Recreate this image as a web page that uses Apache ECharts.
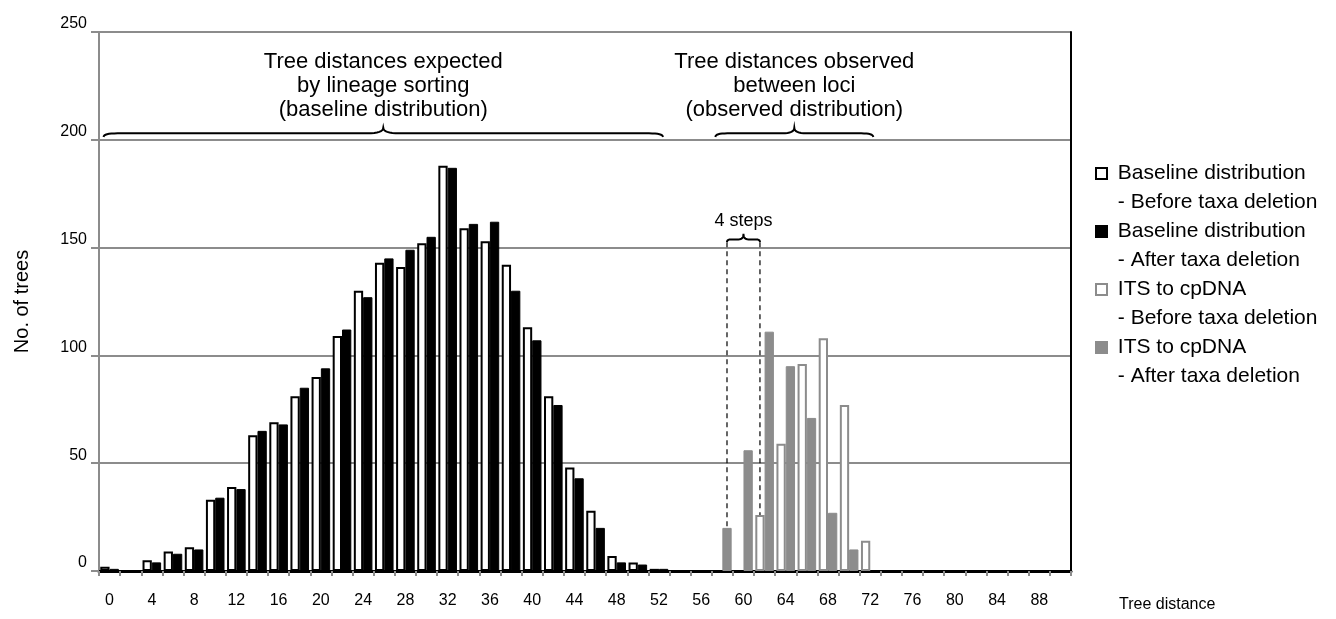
<!DOCTYPE html>
<html><head><meta charset="utf-8">
<script src="https://cdn.jsdelivr.net/npm/echarts@6/dist/echarts.min.js"></script>
<style>html,body{margin:0;padding:0;background:#fff}#c{width:1336px;height:619px}</style>
</head><body><div id="c"></div>
<script>
// ---- data ----
const categories = ['0','2','4','6','8','10','12','14','16','18','20','22','24','26','28','30','32','34','36','38','40','42','44','46','48','50','52','54','56','58','60','62','64','66','68','70','72','74','76','78','80','82','84','86','88','90'];
const yTicks = [0, 50, 100, 150, 200, 250];
const seriesNames = ['Baseline distribution\n- Before taxa deletion','Baseline distribution\n- After taxa deletion','ITS to cpDNA\n- Before taxa deletion','ITS to cpDNA\n- After taxa deletion'];
const baselineBefore = [2,null,5,9,11,33,39,63,69,81,90,109,130,143,141,152,188,159,153,142,113,81,48,28,7,4,1,
  null,null,null,null,null,null,null,null,null,null,null,null,null,null,null,null,null,null];
const baselineAfter = [1,null,4,8,10,34,38,65,68,85,94,112,127,145,149,155,187,161,162,130,107,77,43,20,4,3,1,
  null,null,null,null,null,null,null,null,null,null,null,null,null,null,null,null,null,null];
const itsBefore = [null,null,null,null,null,null,null,null,null,null,null,null,null,null,null,null,null,null,null,null,null,null,null,null,null,null,null,null,null,null,null,
  26,59,96,108,77,14,null,null,null,null,null,null,null,null,null];
const itsAfter = [null,null,null,null,null,null,null,null,null,null,null,null,null,null,null,null,null,null,null,null,null,null,null,null,null,null,null,null,null,
  20,56,111,95,71,27,10,null,null,null,null,null,null,null,null,null,null];
const annotations = ['Tree distances expected\nby lineage sorting\n(baseline distribution)','Tree distances observed\nbetween loci\n(observed distribution)','4 steps'];

const FONT = 'Liberation Sans, Arial, sans-serif';
const GREY = '#8c8c8c';
const chart = echarts.init(document.getElementById('c'), null, {renderer:'canvas'});
const CAT_GAP = 0.12;
chart.setOption({
  animation:false,
  grid:{left:99, right:265, top:32, bottom:48, containLabel:false},
  xAxis:{type:'category', data:categories, name:'Tree distance', nameLocation:'end', nameGap:48,
    nameTextStyle:{fontFamily:FONT, fontSize:16, color:'#000', verticalAlign:'top', padding:[26,0,0,0]},
    axisLine:{lineStyle:{color:'#000', width:3}},
    axisTick:{show:true, interval:0, length:5, lineStyle:{color:GREY, width:2}},
    axisLabel:{interval:1, margin:22, fontFamily:FONT, fontSize:16, color:'#000'},
    splitLine:{show:false}},
  yAxis:[{type:'value', min:0, max:250, interval:50, name:'No. of trees', nameLocation:'middle', nameGap:67,
    nameTextStyle:{fontFamily:FONT, fontSize:20, color:'#000'},
    axisLine:{show:true, lineStyle:{color:GREY, width:2}},
    axisTick:{show:true, length:8, lineStyle:{color:GREY, width:2}},
    axisLabel:{margin:12, fontFamily:FONT, fontSize:16, color:'#000', verticalAlign:'bottom'},
    splitLine:{show:true, lineStyle:{color:GREY, width:2}}},
   {type:'value', position:'right', min:0, max:250, interval:50,
    axisLine:{show:true, lineStyle:{color:'#000', width:2}}, axisTick:{show:false}, axisLabel:{show:false}, splitLine:{show:false}}],
  legend:{orient:'vertical', left:1095, top:130, padding:0, itemWidth:11, itemHeight:11, itemGap:-29, icon:'rect',
    textStyle:{fontFamily:FONT, fontSize:21, color:'#000', lineHeight:29},
    formatter: n => '\n ' + n.replace('\n','\n '),
    data: seriesNames},
  series:[
    {name:seriesNames[0], type:'bar', stack:'before', data:baselineBefore, barCategoryGap:(CAT_GAP*100)+'%', barGap:'0%',
      itemStyle:{color:'#fff', borderColor:'#000', borderWidth:2}},
    {name:seriesNames[1], type:'bar', stack:'after', data:baselineAfter, barCategoryGap:(CAT_GAP*100)+'%', barGap:'0%',
      itemStyle:{color:'#000', borderColor:'#000', borderWidth:1}},
    {name:seriesNames[2], type:'bar', stack:'before', data:itsBefore,
      itemStyle:{color:'#fff', borderColor:GREY, borderWidth:2}},
    {name:seriesNames[3], type:'bar', stack:'after', data:itsAfter,
      itemStyle:{color:GREY, borderColor:GREY, borderWidth:1}}
  ]
});

// ---- annotations positioned through the chart's scales ----
const px = (cat, v) => chart.convertToPixel({xAxisIndex:0, yAxisIndex:0}, [cat, v]);
const band = px('2',0)[0] - px('0',0)[0];
const barW = band * (1 - CAT_GAP) / 2;
function quad(p0, c, p1, n, out){ for(let i=1;i<=n;i++){const t=i/n, a=(1-t)*(1-t), b=2*(1-t)*t, d=t*t; out.push([a*p0[0]+b*c[0]+d*p1[0], a*p0[1]+b*c[1]+d*p1[1]]);} }
function brace(x1, x2, vEnd, vFlat, vPeak, rEnd, rMid){
  const yE = px('0',vEnd)[1], yF = px('0',vFlat)[1], yP = px('0',vPeak)[1];
  const xm = (x1+x2)/2, pts = [[x1,yE]];
  quad([x1,yE],[x1,yF],[x1+rEnd,yF],8,pts);
  pts.push([xm-rMid,yF]);
  quad([xm-rMid,yF],[xm,yF],[xm,yP],8,pts);
  quad([xm,yP],[xm,yF],[xm+rMid,yF],8,pts);
  pts.push([x2-rEnd,yF]);
  quad([x2-rEnd,yF],[x2,yF],[x2,yE],8,pts);
  return {type:'polyline', shape:{points:pts}, style:{stroke:'#000', lineWidth:2, fill:null}, silent:true};
}
const b1x1 = px('0',0)[0]-6, b1x2 = px('52',0)[0]+4;
const b2x1 = px('58',0)[0]-7, b2x2 = px('72',0)[0]+3;
const s1 = px('58',0)[0] + barW/2, s2 = px('62',0)[0] - barW/2;
const textEl = (x, v, t, size, lh) => ({type:'text', x:x, y:px('0',v)[1], silent:true,
  style:{text:t, fontFamily:FONT, fontSize:size, lineHeight:lh, fill:'#000', align:'center', verticalAlign:'middle'}});
const dashed = (x, v1, v2) => ({type:'line', silent:true, shape:{x1:x, y1:px('0',v1)[1], x2:x, y2:px('0',v2)[1]},
  style:{stroke:'#000', lineWidth:1.2, lineDash:[5,4]}});
chart.setOption({graphic:[
  brace(b1x1, b1x2, 201.3, 203, 205.6, 14, 16),
  brace(b2x1, b2x2, 201.3, 203, 205.6, 12, 12),
  textEl((b1x1+b1x2)/2, 225, annotations[0], 22, 24),
  textEl((b2x1+b2x2)/2, 225, annotations[1], 22, 24),
  brace(s1, s2, 152.5, 153.8, 156.4, 4, 5),
  dashed(s1, 152.5, itsAfter[categories.indexOf('58')]),
  dashed(s2, 152.5, itsBefore[categories.indexOf('62')]),
  textEl((s1+s2)/2, 162.3, annotations[2], 18, 20)
]});
</script></body></html>
